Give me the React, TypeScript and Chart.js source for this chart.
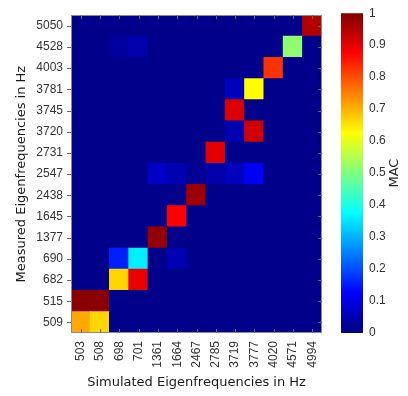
import { useEffect, useRef } from "react";
import { Chart, registerables } from "chart.js";

Chart.register(...registerables);

const simulatedHz = ["503", "508", "698", "701", "1361", "1664", "2467", "2785", "3719", "3777", "4020", "4571", "4994"];
const measuredHz = ["509", "515", "682", "690", "1377", "1645", "2438", "2547", "2731", "3720", "3745", "3781", "4003", "4528", "5050"];

// MAC values, one array per measured frequency, columns follow simulatedHz
const mac509 = [0.71, 0.665, 0.01, 0.01, 0.01, 0.01, 0.01, 0.01, 0.01, 0.01, 0.01, 0.01, 0.01];
const mac515 = [0.99, 0.99, 0.01, 0.01, 0.01, 0.01, 0.01, 0.01, 0.01, 0.01, 0.01, 0.01, 0.01];
const mac682 = [0.01, 0.01, 0.665, 0.895, 0.01, 0.01, 0.01, 0.01, 0.01, 0.01, 0.01, 0.01, 0.01];
const mac690 = [0.01, 0.01, 0.155, 0.36, 0.01, 0.05, 0.01, 0.01, 0.01, 0.01, 0.01, 0.01, 0.01];
const mac1377 = [0.01, 0.01, 0.01, 0.01, 0.98, 0.01, 0.01, 0.01, 0.01, 0.01, 0.01, 0.01, 0.01];
const mac1645 = [0.01, 0.01, 0.01, 0.01, 0.01, 0.875, 0.01, 0.01, 0.01, 0.01, 0.01, 0.01, 0.01];
const mac2438 = [0.01, 0.01, 0.01, 0.01, 0.01, 0.01, 0.97, 0.01, 0.01, 0.01, 0.01, 0.01, 0.01];
const mac2547 = [0.01, 0.01, 0.01, 0.01, 0.07, 0.05, 0.02, 0.04, 0.06, 0.115, 0.01, 0.01, 0.01];
const mac2731 = [0.01, 0.01, 0.01, 0.01, 0.01, 0.01, 0.01, 0.9, 0.01, 0.01, 0.01, 0.01, 0.01];
const mac3720 = [0.01, 0.01, 0.01, 0.01, 0.01, 0.01, 0.01, 0.01, 0.05, 0.92, 0.01, 0.01, 0.01];
const mac3745 = [0.01, 0.01, 0.01, 0.01, 0.01, 0.01, 0.01, 0.01, 0.91, 0.01, 0.01, 0.01, 0.01];
const mac3781 = [0.01, 0.01, 0.01, 0.01, 0.01, 0.01, 0.01, 0.01, 0.06, 0.625, 0.01, 0.01, 0.01];
const mac4003 = [0.01, 0.01, 0.01, 0.01, 0.01, 0.01, 0.01, 0.01, 0.01, 0.01, 0.825, 0.01, 0.01];
const mac4528 = [0.01, 0.01, 0.03, 0.045, 0.01, 0.01, 0.01, 0.01, 0.01, 0.01, 0.01, 0.515, 0.01];
const mac5050 = [0.01, 0.01, 0.01, 0.01, 0.01, 0.01, 0.01, 0.01, 0.01, 0.01, 0.01, 0.01, 0.95];

const macMatrix = [mac509, mac515, mac682, mac690, mac1377, mac1645, mac2438, mac2547, mac2731, mac3720, mac3745, mac3781, mac4003, mac4528, mac5050];

const colorbarTicks = [0, 0.1, 0.2, 0.3, 0.4, 0.5, 0.6, 0.7, 0.8, 0.9, 1];
const colorbarRange = [0, 1];

const FONT = "'Liberation Sans', Arial, Helvetica, sans-serif";
const TITLE_FONT = "'DejaVu Sans', sans-serif";

function jet(v: number): string {
  const c = (x: number) => Math.round(255 * Math.min(1, Math.max(0, x)));
  return `rgb(${c(1.5 - Math.abs(4 * v - 3))},${c(1.5 - Math.abs(4 * v - 2))},${c(1.5 - Math.abs(4 * v - 1))})`;
}

const framePlugin = {
  id: "frame",
  afterDatasetsDraw(chart: any) {
    const { ctx, chartArea: a, scales } = chart;
    const L = Math.round(a.left), R = Math.round(a.right), T = Math.round(a.top), B = Math.round(a.bottom);
    ctx.save();
    ctx.strokeStyle = "#8a8a8a";
    ctx.lineWidth = 1;
    ctx.strokeRect(L + 0.5, T + 0.5, R - L - 1, B - T - 1);
    ctx.strokeStyle = "#666";
    ctx.beginPath();
    const xs = scales.x;
    for (let i = 0; i < xs.ticks.length; i++) {
      const px = Math.round(xs.getPixelForTick(i)) + 0.5;
      ctx.moveTo(px, B);
      ctx.lineTo(px, B - 4);
      ctx.moveTo(px, T);
      ctx.lineTo(px, T + 4);
    }
    const ys = scales.y;
    for (let i = 0; i < ys.ticks.length; i++) {
      const py = Math.round(ys.getPixelForValue(ys.ticks[i].value)) + 0.5;
      ctx.moveTo(L - 4, py);
      ctx.lineTo(L, py);
      ctx.moveTo(R, py);
      ctx.lineTo(R - 4, py);
    }
    ctx.stroke();
    ctx.restore();
  },
};

const macLabelPlugin = {
  id: "macLabel",
  afterDraw(chart: any) {
    const { ctx, chartArea: a } = chart;
    ctx.save();
    ctx.translate(60, (a.top + a.bottom) / 2);
    ctx.rotate(-Math.PI / 2);
    ctx.font = `13px ${TITLE_FONT}`;
    ctx.fillStyle = "#262626";
    ctx.textAlign = "center";
    ctx.textBaseline = "middle";
    ctx.fillText("MAC", 0, 0);
    ctx.restore();
  },
};

export default function App() {
  const mainRef = useRef<HTMLCanvasElement | null>(null);
  const barRef = useRef<HTMLCanvasElement | null>(null);

  useEffect(() => {
    if (!mainRef.current || !barRef.current) return;

    const main = new Chart(mainRef.current, {
      type: "bar",
      data: {
        labels: simulatedHz,
        datasets: measuredHz.map((m, r) => ({
          label: m,
          data: macMatrix[r].map(() => [r - 0.5, r + 0.5]),
          backgroundColor: macMatrix[r].map((v) => jet(v)),
          borderWidth: 0,
          inflateAmount: 0.6,
          barPercentage: 1,
          categoryPercentage: 1,
          grouped: false,
        })),
      } as any,
      options: {
        responsive: false,
        animation: false,
        layout: { padding: { left: 0, top: 9, right: 6, bottom: 0 } },
        plugins: { legend: { display: false }, tooltip: { enabled: false } },
        scales: {
          x: {
            type: "category",
            offset: true,
            grid: { display: false, drawTicks: false },
            border: { display: false },
            ticks: {
              minRotation: 90,
              maxRotation: 90,
              autoSkip: false,
              padding: 8,
              color: "#333",
              font: { family: FONT, size: 12 },
            },
            title: {
              display: true,
              text: "Simulated Eigenfrequencies in Hz",
              color: "#1a1a1a",
              font: { family: TITLE_FONT, size: 13 },
              padding: { top: 0, bottom: 6 },
            },
            afterFit(scale: any) {
              scale.height = 63;
            },
          },
          y: {
            type: "linear",
            min: -0.5,
            max: 14.5,
            grid: { display: false, drawTicks: false },
            border: { display: false },
            afterBuildTicks(scale: any) {
              scale.ticks = measuredHz.map((_, i) => ({ value: i }));
            },
            ticks: {
              autoSkip: false,
              padding: 8,
              color: "#333",
              font: { family: FONT, size: 12 },
              callback: (v: any) => measuredHz[Math.round(Number(v))] ?? "",
            },
            title: {
              display: true,
              text: "Measured Eigenfrequencies in Hz",
              color: "#1a1a1a",
              font: { family: TITLE_FONT, size: 13 },
              padding: { top: 14, bottom: 0 },
            },
            afterFit(scale: any) {
              scale.width = 71;
            },
          },
        },
      } as any,
      plugins: [framePlugin],
    });

    const bar = new Chart(barRef.current, {
      type: "bar",
      data: {
        labels: ["MAC"],
        datasets: [
          {
            data: [colorbarRange],
            backgroundColor: (ctx: any) => {
              const chart = ctx.chart;
              const a = chart.chartArea;
              if (!a) return jet(0.5);
              const g = chart.ctx.createLinearGradient(0, a.bottom, 0, a.top);
              for (let i = 0; i <= 64; i++) g.addColorStop(i / 64, jet(i / 64));
              return g;
            },
            borderWidth: 0,
            barPercentage: 1,
            categoryPercentage: 1,
          },
        ],
      } as any,
      options: {
        responsive: false,
        animation: false,
        layout: { padding: { left: 6, top: 9, right: 0, bottom: 63 } },
        plugins: { legend: { display: false }, tooltip: { enabled: false } },
        scales: {
          x: { display: false },
          y: {
            type: "linear",
            position: "right",
            min: 0,
            max: 1,
            grid: { display: false, drawTicks: false },
            border: { display: false },
            afterBuildTicks(scale: any) {
              scale.ticks = colorbarTicks.map((v) => ({ value: v }));
            },
            ticks: {
              padding: 6,
              color: "#333",
              font: { family: FONT, size: 12 },
              callback: (v: any) => String(Math.round(Number(v) * 10) / 10),
            },
            afterFit(scale: any) {
              scale.width = 45;
            },
          },
        },
      } as any,
      plugins: [macLabelPlugin],
    });

    return () => {
      main.destroy();
      bar.destroy();
    };
  }, []);

  return (
    <div style={{ position: "absolute", left: 0, top: 0, width: 408, height: 396, background: "#fff" }}>
      <canvas ref={mainRef} width={335} height={396} style={{ position: "absolute", left: 0, top: 0 }} />
      <canvas ref={barRef} width={73} height={396} style={{ position: "absolute", left: 335, top: 0 }} />
    </div>
  );
}
